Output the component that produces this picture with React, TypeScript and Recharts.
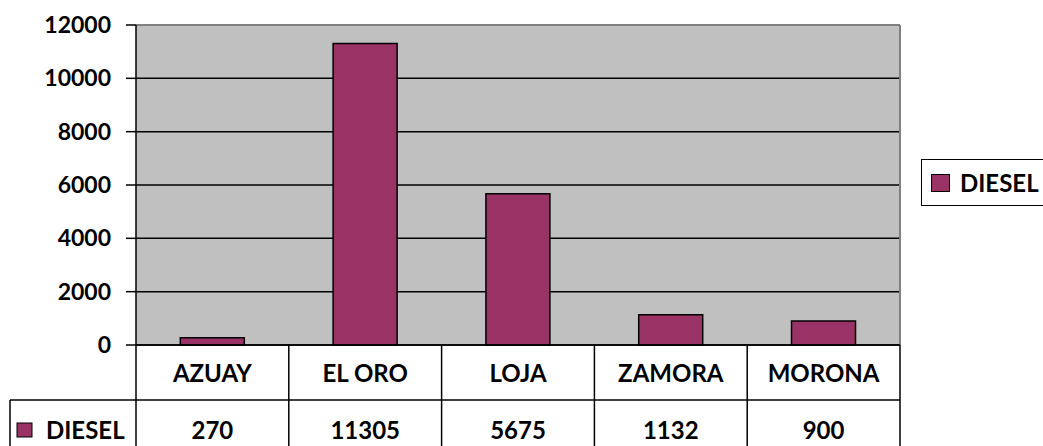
import { BarChart, Bar, XAxis, YAxis, CartesianGrid, Legend } from 'recharts';

const provinces = ['AZUAY', 'EL ORO', 'LOJA', 'ZAMORA', 'MORONA'];
const diesel = [270, 11305, 5675, 1132, 900];
const yTicks = [0, 2000, 4000, 6000, 8000, 10000, 12000];

const data = provinces.map((name, i) => ({ name, DIESEL: diesel[i] }));

const FONT = 'Lato, "Open Sans", sans-serif';
const BAR_COLOR = '#993366';
const W = 1043;
const H = 446;
const PLOT_LEFT = 136;
const PLOT_RIGHT = 900;
const BAND = (PLOT_RIGHT - PLOT_LEFT) / provinces.length;
const TABLE_H = 101;
const ROW1 = 55;

const TableTick = (props: any) => {
  const { x, y, payload, index } = props;
  const left = x - BAND / 2;
  const right = x + BAND / 2;
  return (
    <g>
      <line x1={right} y1={y} x2={right} y2={y + TABLE_H} stroke="#000" strokeWidth={1.5} />
      <line x1={left} y1={y + ROW1} x2={right} y2={y + ROW1} stroke="#000" strokeWidth={1.5} />
      {index === 0 && (
        <g>
          <line x1={left} y1={y} x2={left} y2={y + TABLE_H} stroke="#000" strokeWidth={1.5} />
          <line x1={10} y1={y + ROW1} x2={left} y2={y + ROW1} stroke="#000" strokeWidth={1.5} />
          <line x1={10} y1={y + ROW1} x2={10} y2={y + TABLE_H} stroke="#000" strokeWidth={1.5} />
          <rect x={17} y={y + 78} width={15} height={14} fill={BAR_COLOR} stroke="#000" />
          <text x={46} y={y + 94} fontFamily={FONT} fontWeight={700} fontSize={24} fill="#000">
            DIESEL
          </text>
        </g>
      )}
      <text x={x} y={y + 37} textAnchor="middle" fontFamily={FONT} fontWeight={700} fontSize={24} fill="#000">
        {payload.value}
      </text>
      <text x={x} y={y + 94} textAnchor="middle" fontFamily={FONT} fontWeight={700} fontSize={24} fill="#000">
        {diesel[index]}
      </text>
    </g>
  );
};

const LegendBox = (props: any) => {
  const { payload } = props;
  return (
    <div
      style={{
        border: '1.5px solid #000',
        width: 140,
        height: 47,
        boxSizing: 'border-box',
        display: 'flex',
        alignItems: 'center',
        paddingLeft: 9,
        background: '#fff',
      }}
    >
      {(payload || []).map((p: any) => (
        <div key={p.value} style={{ display: 'flex', alignItems: 'center' }}>
          <span
            style={{
              display: 'inline-block',
              width: 17,
              height: 16,
              background: BAR_COLOR,
              border: '1px solid #000',
              marginRight: 10,
            }}
          />
          <span style={{ fontFamily: FONT, fontWeight: 700, fontSize: 24, color: '#000', lineHeight: '24px' }}>
            {p.value}
          </span>
        </div>
      ))}
    </div>
  );
};

export default function App() {
  return (
    <div style={{ position: 'absolute', left: 0, top: 0, width: W, height: H, background: '#fff' }}>
      <BarChart
        width={W}
        height={H}
        data={data}
        margin={{ top: 25, right: W - PLOT_RIGHT, left: 10, bottom: 0 }}
        barCategoryGap="29%"
      >
        <CartesianGrid vertical={false} stroke="#000" strokeWidth={1.5} fill="#C0C0C0" fillOpacity={1} />
        <CartesianGrid
          stroke="#808080"
          strokeWidth={2}
          horizontalCoordinatesGenerator={({ offset }: any) => [offset.top]}
          verticalCoordinatesGenerator={({ offset }: any) => [offset.left + offset.width]}
        />
        <XAxis
          dataKey="name"
          height={TABLE_H}
          tickLine={false}
          tickSize={0}
          tickMargin={0}
          axisLine={{ stroke: '#000', strokeWidth: 1.5 }}
          tick={<TableTick />}
          interval={0}
        />
        <YAxis
          width={126}
          domain={[0, 12000]}
          ticks={yTicks}
          interval={0}
          tickSize={10}
          tickMargin={15}
          axisLine={{ stroke: '#000', strokeWidth: 1.5 }}
          tickLine={{ stroke: '#000', strokeWidth: 1.5 }}
          tick={{ fontFamily: FONT, fontWeight: 700, fontSize: 23, fill: '#000' }}
        />
        <Legend
          layout="vertical"
          align="center"
          verticalAlign="middle"
          content={<LegendBox />}
          wrapperStyle={{ position: 'absolute', left: 921, top: 159, width: 140 }}
        />
        <Bar dataKey="DIESEL" fill={BAR_COLOR} stroke="#000" strokeWidth={1.5} isAnimationActive={false} />
      </BarChart>
    </div>
  );
}
